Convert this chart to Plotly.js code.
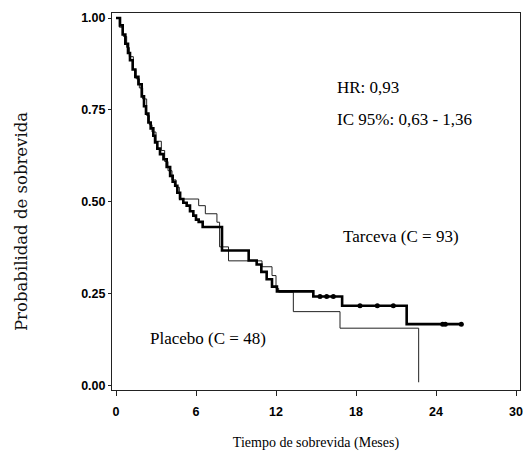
<!DOCTYPE html>
<html>
<head>
<meta charset="utf-8">
<script src="https://cdn.plot.ly/plotly-3.0.1.min.js"></script>
<style>html,body{margin:0;padding:0;background:#fff;}#chart{width:523px;height:461px;}</style>
</head>
<body>
<div id="chart"></div>
<script>
// Tarceva (thick) Kaplan-Meier steps
var tarcevaT = [0, 0.3, 0.5, 0.7, 0.9, 1.05, 1.25, 1.45, 1.68, 1.93, 2.1, 2.25, 2.43, 2.6, 2.8, 2.93, 3.1, 3.3, 3.56, 3.8, 4.06, 4.25, 4.44, 4.6, 4.81, 5.05, 5.3, 5.55, 5.8, 6.0, 6.2, 6.5, 7.95, 9.95, 10.55, 10.9, 11.3, 11.7, 12.07, 14.8, 16.96, 21.8, 25.9];
var tarcevaS = [1.00, 0.98, 0.955, 0.93, 0.905, 0.885, 0.86, 0.84, 0.82, 0.787, 0.76, 0.74, 0.716, 0.70, 0.68, 0.662, 0.645, 0.63, 0.616, 0.595, 0.571, 0.555, 0.544, 0.525, 0.508, 0.498, 0.49, 0.475, 0.463, 0.452, 0.446, 0.432, 0.368, 0.341, 0.33, 0.31, 0.29, 0.27, 0.257, 0.243, 0.218, 0.168, 0.168];
// Tarceva censoring marks
var tarcevaCensT = [15.3, 15.8, 16.3, 18.3, 19.6, 20.8, 24.5, 24.7, 25.9];
var tarcevaCensS = [0.243, 0.243, 0.243, 0.218, 0.218, 0.218, 0.168, 0.168, 0.168];
// Placebo (thin) Kaplan-Meier steps
var placeboT = [0, 0.25, 0.55, 0.8, 1.0, 1.3, 1.5, 1.75, 2.0, 2.3, 2.5, 2.7, 3.0, 3.4, 3.65, 3.9, 4.2, 4.5, 4.75, 6.2, 6.7, 7.57, 7.77, 8.44, 10.95, 11.7, 12.0, 12.2, 13.3, 16.8, 22.7, 22.7];
var placeboS = [1.00, 0.975, 0.95, 0.92, 0.895, 0.86, 0.835, 0.81, 0.78, 0.735, 0.71, 0.69, 0.665, 0.64, 0.61, 0.585, 0.56, 0.54, 0.508, 0.49, 0.468, 0.445, 0.378, 0.34, 0.324, 0.30, 0.265, 0.255, 0.202, 0.157, 0.157, 0.01];
var xTicks = [0, 6, 12, 18, 24, 30];
var yTicks = [0, 0.25, 0.5, 0.75, 1.0];

var traces = [
  {x: placeboT, y: placeboS, mode: 'lines', line: {shape: 'hv', color: '#222', width: 1}, hoverinfo: 'skip'},
  {x: tarcevaT, y: tarcevaS, mode: 'lines', line: {shape: 'hv', color: '#000', width: 2.6}, hoverinfo: 'skip'},
  {x: tarcevaCensT, y: tarcevaCensS, mode: 'markers', marker: {symbol: 'circle', size: 5, color: '#000'}, hoverinfo: 'skip'}
];

var serif = 'Liberation Serif, Times New Roman, serif';
var tickFont = {family: 'Liberation Sans, Arial, sans-serif', size: 12.5, color: '#000', weight: 'bold'};
var layout = {
  width: 523, height: 461,
  margin: {l: 112, r: 3, t: 13, b: 71},
  paper_bgcolor: '#fff', plot_bgcolor: '#fff',
  showlegend: false,
  xaxis: {
    range: [-0.3, 30.3], tickvals: xTicks, ticktext: xTicks.map(String),
    showgrid: false, zeroline: false, showline: true, mirror: true,
    linecolor: '#222', linewidth: 1, ticks: 'outside', ticklen: 5, tickcolor: '#222',
    ticklabelstandoff: 5,
    tickfont: tickFont,
    title: {text: 'Tiempo de sobrevida (Meses)', font: {family: serif, size: 14, color: '#000'}, standoff: 19}
  },
  yaxis: {
    range: [-0.011, 1.0136], tickvals: yTicks, tickformat: '.2f',
    showgrid: false, zeroline: false, showline: true, mirror: true,
    linecolor: '#222', linewidth: 1, ticks: 'outside', ticklen: 3, tickcolor: '#222',
    tickfont: tickFont
  },
  annotations: [
    {x: 0, y: 0, xref: 'paper', yref: 'paper', xanchor: 'center', yanchor: 'middle', showarrow: false, textangle: -90,
     text: 'Probabilidad de sobrevida', font: {family: 'DejaVu Serif, serif', size: 16.5, color: '#111'}},
    {x: 16.4, y: 0.81, xref: 'x', yref: 'y', xanchor: 'left', yanchor: 'middle', showarrow: false, text: 'HR: 0,93', font: {family: serif, size: 17, color: '#000'}},
    {x: 16.4, y: 0.723, xref: 'x', yref: 'y', xanchor: 'left', yanchor: 'middle', showarrow: false, text: 'IC 95%: 0,63 - 1,36', font: {family: serif, size: 17, color: '#000'}},
    {x: 16.9, y: 0.405, xref: 'x', yref: 'y', xanchor: 'left', yanchor: 'middle', showarrow: false, text: 'Tarceva (C = 93)', font: {family: serif, size: 17, color: '#000'}},
    {x: 2.4, y: 0.13, xref: 'x', yref: 'y', xanchor: 'left', yanchor: 'middle', showarrow: false, text: 'Placebo (C = 48)', font: {family: serif, size: 17, color: '#000'}}
  ]
};
// y title placed by pixel: centre at 222px from top, x at 22px from left
var plotH = 461 - 13 - 71, plotW = 523 - 112 - 3;
layout.annotations[0].y = (461 - 71 - 222) / plotH;
layout.annotations[0].x = (22 - 112) / plotW;

Plotly.newPlot('chart', traces, layout, {displayModeBar: false, staticPlot: true});
</script>
</body>
</html>
